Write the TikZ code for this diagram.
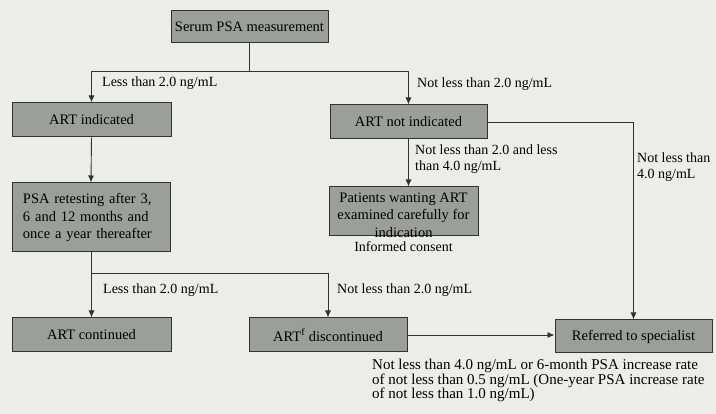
\documentclass[tikz,border=0pt]{standalone}
\usepackage{fontspec}
\setmainfont{Liberation Serif}
\usetikzlibrary{arrows.meta}
\definecolor{boxgray}{RGB}{155,159,153}
\definecolor{pagegray}{RGB}{236,237,234}
\definecolor{linegray}{RGB}{50,50,50}

\begin{document}
\begin{tikzpicture}[x=1pt,y=-1pt,
    box/.style={draw=linegray,line width=1pt,fill=boxgray,inner sep=0pt,
      minimum width=158pt,minimum height=34pt,font=\fontsize{14.5}{16}\selectfont},
    lbl/.style={inner sep=0pt,align=left,font=\fontsize{14}{15.5}\selectfont},
    flow/.style={draw=linegray,line width=0.9pt,-{Latex[length=7pt,width=6pt]}},
    link/.style={draw=linegray,line width=0.9pt}]
\fill[pagegray] (0,0) rectangle (716,414);
\useasboundingbox (0,0) rectangle (716,414);

% boxes
\node[box,minimum width=157pt,minimum height=32pt] (serum) at (249.5,27) {Serum PSA measurement};
\node[box,minimum width=159pt] (artind) at (91.5,120) {ART indicated};
\node[box,minimum width=157pt] (artnot) at (408.5,122) {ART not indicated};
\node[box,minimum height=69pt,text width=136pt,inner xsep=11pt,align=left,
      font=\fontsize{14.5}{17.5}\selectfont] (psa) at (91,217.5)
  {PSA retesting after 3,\\6 and 12 months and\\once a year thereafter};
\node[box,minimum width=149pt,minimum height=49pt] (patients) at (403.5,211.5) {};
\node[lbl,align=center,font=\fontsize{14.5}{17.5}\selectfont] (patientstxt) at (403.5,215)
  {Patients wanting ART\\examined carefully for\\indication};
\node[box,minimum width=159pt] (artcont) at (91.5,335) {ART continued};
\node[box] (artdisc) at (328,335) {ART\textsuperscript{f} discontinued};
\node[box,minimum width=157pt,minimum height=33pt] (referred) at (633.5,336.5) {Referred to specialist};

% connectors
\coordinate (split1) at (249.5,71);
\coordinate (split2) at (91,273);
\draw[link] (serum.south) -- (split1);
\draw[flow] (split1) -| (artind.north);
\draw[flow] (split1) -| (artnot.north);
\draw[flow] (artind.south) -- (psa.north);
\draw[flow] (artnot.south) -- (artnot.south |- patients.north);
\draw[flow] (artnot.east) -| (referred.north);
\draw[link] (psa.south) -- (split2);
\draw[flow] (split2) -| (artcont.north);
\draw[flow] (split2) -| (artdisc.north);
\draw[flow] (artdisc.east) -- (artdisc.east -| referred.west);

% labels
\node[lbl,anchor=west] (lessA) at (102,83) {Less than 2.0 ng/mL};
\node[lbl,anchor=west] (notlessA) at (417,84) {Not less than 2.0 ng/mL};
\node[lbl,anchor=north west] (between) at (415,145) {Not less than 2.0 and less\\than 4.0 ng/mL};
\node[lbl,anchor=north west] (notlessB) at (637,153) {Not less than\\4.0 ng/mL};
\node[lbl] (consent) at (403.5,247) {Informed consent};
\node[lbl,anchor=west] (lessB) at (103,290) {Less than 2.0 ng/mL};
\node[lbl,anchor=west] (notlessC) at (337,290) {Not less than 2.0 ng/mL};
\node[lbl,anchor=north west,font=\fontsize{15}{14.5}\selectfont] (rise) at (372,359)
  {Not less than 4.0 ng/mL or 6-month PSA increase rate\\of not less than 0.5 ng/mL (One-year PSA increase rate\\of not less than 1.0 ng/mL)};
\end{tikzpicture}
\end{document}
